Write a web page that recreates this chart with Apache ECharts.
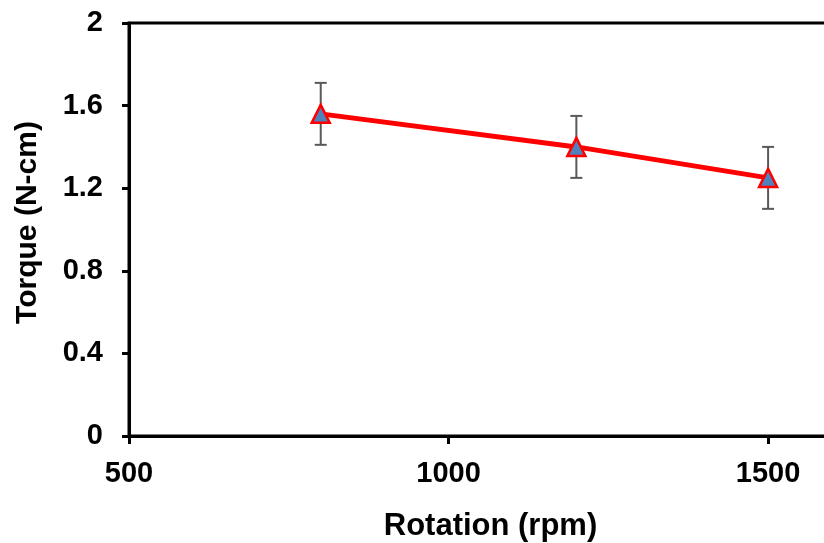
<!DOCTYPE html>
<html>
<head>
<meta charset="utf-8">
<script src="https://cdn.jsdelivr.net/npm/echarts@6/dist/echarts.min.js"></script>
<style>
html,body{margin:0;padding:0;background:#fff;overflow:hidden;}
#chart{width:824px;height:543px;}
</style>
</head>
<body>
<div id="chart"></div>
<script>
var rotation = [800, 1200, 1500];
var torque = [1.56, 1.40, 1.25];
var errorMinus = [0.15, 0.15, 0.15];
var errorPlus = [0.15, 0.15, 0.15];
var xTitle = 'Rotation (rpm)';
var yTitle = 'Torque (N-cm)';

var chart = echarts.init(document.getElementById('chart'));
var font = 'Liberation Sans, Arial, sans-serif';

var lineData = rotation.map(function (x, i) { return [x, torque[i]]; });
var errData = rotation.map(function (x, i) { return [x, torque[i] - errorMinus[i], torque[i] + errorPlus[i]]; });

chart.setOption({
  backgroundColor: '#fff',
  animation: false,
  grid: { left: 129, top: 23, width: 703, height: 413, show: true, borderColor: '#000', borderWidth: 3, outerBoundsMode: 'none', containLabel: false },
  xAxis: {
    type: 'value', min: 500, max: 1600, interval: 500,
    name: xTitle, nameLocation: 'middle', nameGap: 75,
    nameTextStyle: { fontFamily: font, fontWeight: 'bold', fontSize: 31, color: '#000', padding: [0, 0, 0, 20] },
    axisLine: { show: true, lineStyle: { color: '#000', width: 3 } },
    axisTick: { show: true, inside: false, length: 8, lineStyle: { color: '#000', width: 3 } },
    axisLabel: {
      fontFamily: font, fontWeight: 'bold', fontSize: 29, color: '#000', margin: 23,
      formatter: function (v) { return v > 1550 ? '' : String(v); }
    },
    splitLine: { show: false }
  },
  yAxis: {
    type: 'value', min: 0, max: 2, interval: 0.4,
    name: yTitle, nameLocation: 'middle', nameGap: 86,
    nameTextStyle: { fontFamily: font, fontWeight: 'bold', fontSize: 30, color: '#000', padding: [0, 0, 0, 14] },
    axisLine: { show: true, lineStyle: { color: '#000', width: 3 } },
    axisTick: { show: true, inside: false, length: 7, lineStyle: { color: '#000', width: 3 } },
    axisLabel: {
      fontFamily: font, fontWeight: 'bold', fontSize: 29, color: '#000', margin: 26,
      formatter: function (v) {
        var r = Math.round(v * 10) / 10;
        return (r === 0 || r === 2) ? String(r) : r.toFixed(1);
      }
    },
    splitLine: { show: false }
  },
  series: [
    {
      type: 'custom',
      z: 1,
      data: errData,
      renderItem: function (params, api) {
        var x = api.value(0);
        var lo = api.coord([x, api.value(1)]);
        var hi = api.coord([x, api.value(2)]);
        var hw = 6;
        var style = { stroke: '#595959', lineWidth: 2 };
        return {
          type: 'group',
          children: [
            { type: 'line', shape: { x1: lo[0], y1: lo[1], x2: hi[0], y2: hi[1] }, style: style },
            { type: 'line', shape: { x1: hi[0] - hw, y1: hi[1], x2: hi[0] + hw, y2: hi[1] }, style: style },
            { type: 'line', shape: { x1: lo[0] - hw, y1: lo[1], x2: lo[0] + hw, y2: lo[1] }, style: style }
          ]
        };
      }
    },
    {
      type: 'line',
      z: 3,
      data: lineData,
      symbol: 'triangle',
      symbolSize: 18,
      lineStyle: { color: '#ff0000', width: 5 },
      itemStyle: { color: '#4f81bd', borderColor: '#ff0000', borderWidth: 2.5 }
    }
  ]
});
</script>
</body>
</html>
